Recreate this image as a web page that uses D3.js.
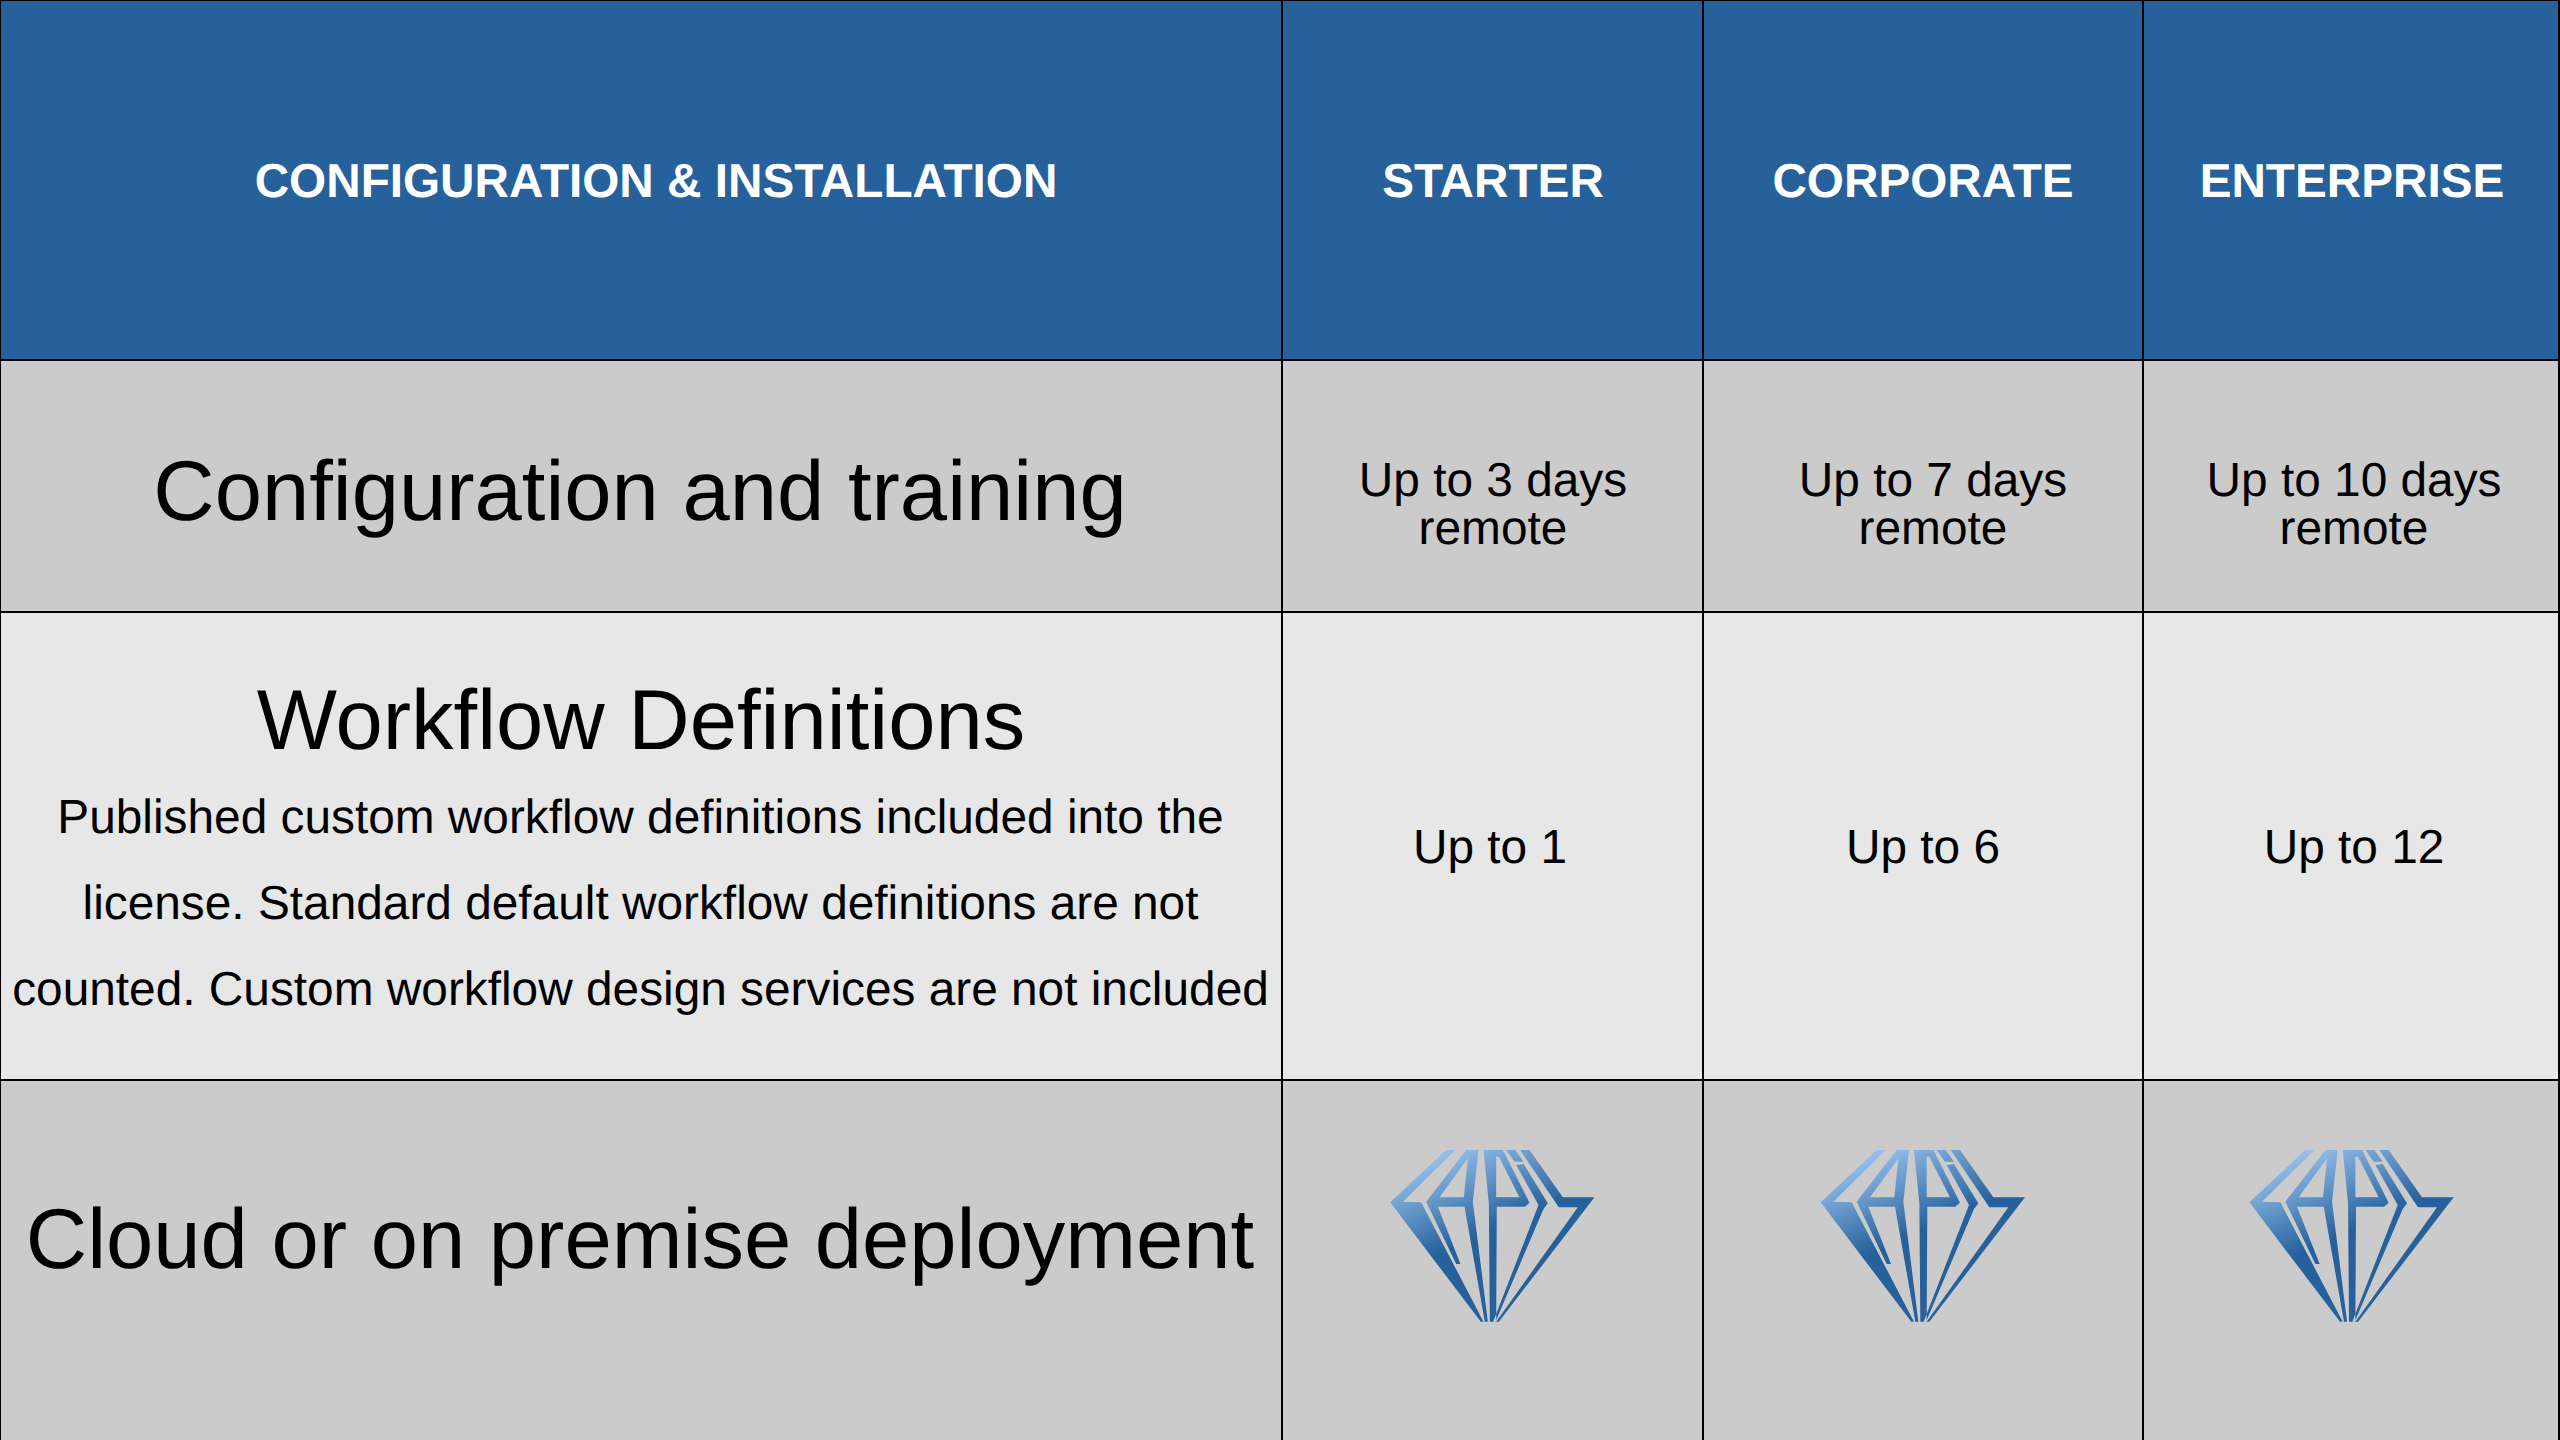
<!DOCTYPE html>
<html>
<head>
<meta charset="utf-8">
<script src="https://cdnjs.cloudflare.com/ajax/libs/d3/7.8.5/d3.min.js"></script>
<style>
html, body { margin: 0; padding: 0; background: #fff; }
text { font-family: "Liberation Sans", Arial, sans-serif; fill: #000; text-rendering: geometricPrecision; }
</style>
</head>
<body>
<div id="chart"></div>
<script>
var headers = ['CONFIGURATION & INSTALLATION', 'STARTER', 'CORPORATE', 'ENTERPRISE'];
var rowTitles = ['Configuration and training', 'Workflow Definitions', 'Cloud or on premise deployment'];
var workflowNote = [
	'Published custom workflow definitions included into the',
	'license. Standard default workflow definitions are not',
	'counted. Custom workflow design services are not included'
];
var trainingCells = [['Up to 3 days', 'remote'], ['Up to 7 days', 'remote'], ['Up to 10 days', 'remote']];
var workflowCells = ['Up to 1', 'Up to 6', 'Up to 12'];

// column and row edges of the table, in page pixels
// last row runs past the page so it has no bottom line, last column stops short of the edge
var colEdges = [0, 1282, 1703, 2143, 2559];
var rowEdges = [0, 360, 612, 1080, 1445];
var rowFills = ['#26619c', '#cbcbcb', '#e7e7e7', '#cbcbcb'];

// logo outlines, traced in a 900x720 box
var logoShapes = [
	[[320,120],[347,120],[190,275],[245,277],[432,635],[424,635],[152,277]],
	[[380,120],[417,120],[400,275],[445,635],[436,635],[375,290],[295,290],[363,462],[350,462],[260,275]],
	[[300,262],[373,262],[385,145]],
	[[432,120],[490,120],[570,278],[556,290],[472,290],[470,635],[451,635],[448,280]],
	[[470,140],[478,140],[540,262],[470,262]],
	[[500,120],[527,120],[552,155],[525,155]],
	[[530,165],[552,162],[625,280],[612,297],[468,635],[461,635],[597,285]],
	[[542,120],[570,120],[670,262],[765,262],[478,635],[470,635],[715,292],[658,292]]
];
var logoLefts = [1339.5, 1770, 2198.7];

var svg = d3.select('#chart').append('svg')
	.attr('width', 2560)
	.attr('height', 1440)
	.style('display', 'block');

var gradient = svg.append('defs').append('linearGradient')
	.attr('id', 'logoFill')
	.attr('gradientUnits', 'userSpaceOnUse')
	.attr('x1', 330).attr('y1', 127)
	.attr('x2', 438).attr('y2', 369);
gradient.append('stop').attr('offset', 0).attr('stop-color', '#94bfea');
gradient.append('stop').attr('offset', 1).attr('stop-color', '#26619c');

var cells = d3.range(4).flatMap(function(r) {
	return d3.range(4).map(function(c) { return { r: r, c: c }; });
});

svg.selectAll('rect.cell').data(cells).enter().append('rect')
	.attr('class', 'cell')
	.attr('x', function(d) { return colEdges[d.c]; })
	.attr('y', function(d) { return rowEdges[d.r]; })
	.attr('width', function(d) { return colEdges[d.c + 1] - colEdges[d.c]; })
	.attr('height', function(d) { return rowEdges[d.r + 1] - rowEdges[d.r]; })
	.attr('fill', function(d) { return rowFills[d.r]; })
	.attr('stroke', '#000')
	.attr('stroke-width', 2);

function label(x, y, str, size, weight, fill) {
	svg.append('text')
		.attr('x', x).attr('y', y)
		.attr('text-anchor', 'middle')
		.style('font-size', size + 'px')
		.style('font-weight', weight || 'normal')
		.style('fill', fill || '#000')
		.text(str);
}

// header row
[656, 1493, 1923, 2352].forEach(function(x, i) {
	label(x, 197, headers[i], 47.7, 'bold', '#fff');
});

// row titles
label(640, 519.5, rowTitles[0], 85);
label(641, 748.5, rowTitles[1], 85);
label(640, 1268, rowTitles[2], 85);

[833, 919, 1005].forEach(function(y, i) {
	label(640.5, y, workflowNote[i], 47.8);
});

// training cells
[1493, 1933, 2354].forEach(function(x, i) {
	label(x, 496, trainingCells[i][0], 47.8);
	label(x, 544, trainingCells[i][1], 47.8);
});

// workflow cells
[1490, 1923, 2354].forEach(function(x, i) {
	label(x, 863, workflowCells[i], 47.8);
});

// logos
var logoX = d3.scaleLinear().domain([0, 900]).range([0, 300]);
var logoY = d3.scaleLinear().domain([0, 720]).range([0, 240]);
var outline = d3.line().x(function(p) { return p[0]; }).y(function(p) { return p[1]; });

logoLefts.forEach(function(left) {
	var g = svg.append('g')
		.attr('transform', 'translate(' + left + ',1110) scale(' + logoX(1) + ',' + logoY(1) + ')');
	g.append('path')
		.attr('fill-rule', 'evenodd')
		.attr('fill', 'url(#logoFill)')
		.attr('d', logoShapes.map(function(s) { return outline(s) + 'Z'; }).join(''));
});
</script>
</body>
</html>
